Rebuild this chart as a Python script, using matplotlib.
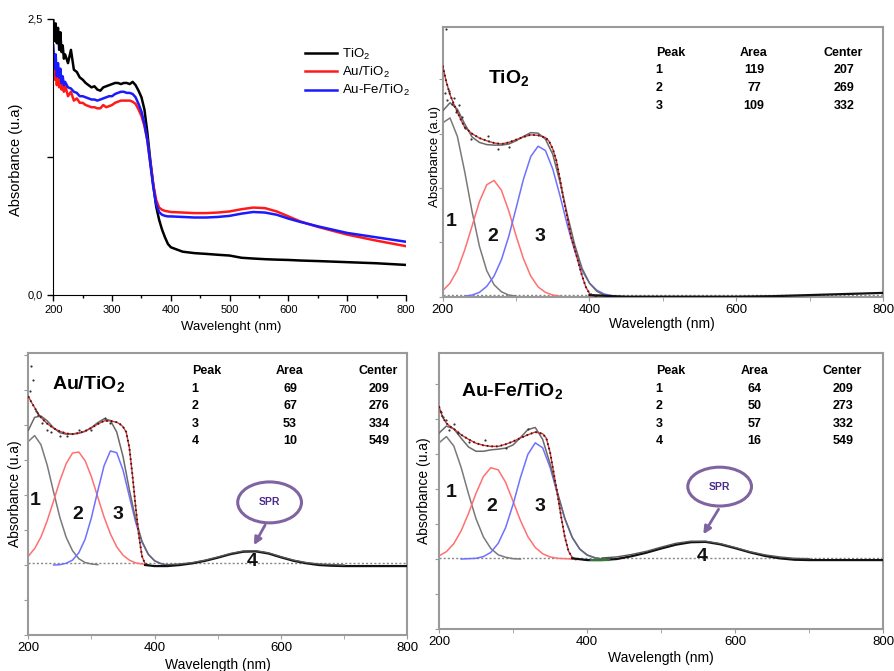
import numpy as np
import matplotlib
matplotlib.use("Agg")
import matplotlib.pyplot as plt
from matplotlib.patches import Ellipse
from matplotlib.ticker import MultipleLocator, FixedLocator, NullFormatter

plt.rcParams['font.family'] = ['Liberation Sans', 'DejaVu Sans']
plt.rcParams['mathtext.default'] = 'regular'

# ---------------- Panel 1 data (UV-Vis spectra) ----------------
wl_spec = [200, 202, 204, 206, 208, 210, 212, 214, 216, 218, 220, 225, 230, 235, 240, 245, 250, 255,
           260, 265, 270, 275, 280, 285, 290, 295, 300, 305, 310, 315, 320, 325, 330, 335, 340, 345,
           350, 355, 360, 365, 370, 375, 380, 385, 390, 395, 400, 420, 440, 460, 480, 500, 520, 540,
           560, 580, 600, 620, 650, 700, 750, 800]
abs_tio2 = [2.50, 2.30, 2.46, 2.28, 2.42, 2.22, 2.38, 2.20, 2.26, 2.14, 2.18, 2.10, 2.22, 2.04, 2.02, 1.97,
            1.95, 1.92, 1.90, 1.88, 1.89, 1.86, 1.85, 1.88, 1.89, 1.90, 1.91, 1.92, 1.92, 1.91, 1.92, 1.92,
            1.91, 1.93, 1.90, 1.85, 1.79, 1.68, 1.47, 1.22, 1.00, 0.80, 0.68, 0.59, 0.52, 0.46, 0.43, 0.39,
            0.377, 0.37, 0.362, 0.355, 0.335, 0.328, 0.322, 0.318, 0.315, 0.31, 0.305, 0.295, 0.285, 0.27]
abs_au = [2.20, 1.95, 2.10, 1.90, 2.05, 1.88, 2.02, 1.86, 1.95, 1.84, 1.90, 1.80, 1.84, 1.76, 1.78, 1.74,
          1.74, 1.72, 1.71, 1.70, 1.70, 1.69, 1.69, 1.72, 1.70, 1.71, 1.72, 1.74, 1.75, 1.76, 1.76, 1.76,
          1.76, 1.75, 1.73, 1.68, 1.62, 1.53, 1.40, 1.20, 1.00, 0.86, 0.79, 0.77, 0.76, 0.755, 0.75, 0.745,
          0.74, 0.74, 0.745, 0.755, 0.775, 0.79, 0.785, 0.755, 0.71, 0.665, 0.615, 0.545, 0.49, 0.44]
abs_aufe = [2.26, 2.05, 2.18, 1.98, 2.10, 1.97, 2.05, 1.92, 1.98, 1.90, 1.93, 1.88, 1.87, 1.84, 1.83, 1.80,
            1.80, 1.79, 1.78, 1.77, 1.77, 1.76, 1.77, 1.78, 1.79, 1.80, 1.80, 1.82, 1.83, 1.84, 1.84, 1.83,
            1.83, 1.82, 1.79, 1.73, 1.66, 1.55, 1.40, 1.19, 0.98, 0.82, 0.75, 0.725, 0.715, 0.71, 0.71, 0.705,
            0.70, 0.70, 0.705, 0.715, 0.735, 0.75, 0.745, 0.725, 0.69, 0.66, 0.62, 0.56, 0.52, 0.48]
series_labels = ['TiO$_2$', 'Au/TiO$_2$', 'Au-Fe/TiO$_2$']
y_ticks_p1 = [0.0, 1.25, 2.5]
y_ticklabels_p1 = ['0,0', '', '2,5']

# ---------------- Deconvolution panels ----------------
nan = np.nan
wl_uv = [200, 210, 220, 230, 240, 250, 260, 270, 280, 290, 300, 310, 320, 330, 340, 350, 360, 370,
         380, 390, 400, 410, 420, 430]
wl_vis = [420, 440, 460, 480, 500, 520, 540, 560, 580, 600, 620, 640, 660, 680, 700]

# TiO2
t_peak1 = [3.20, 3.29, 2.95, 2.30, 1.57, 0.93, 0.48, 0.22, 0.09, 0.03, 0.01, nan, nan, nan, nan, nan, nan,
           nan, nan, nan, nan, nan, nan, nan]
t_peak2 = [0.11, 0.25, 0.49, 0.86, 1.30, 1.75, 2.06, 2.14, 1.96, 1.58, 1.12, 0.70, 0.38, 0.18, 0.08, 0.03,
           0.01, nan, nan, nan, nan, nan, nan, nan]
t_peak3 = [nan, nan, nan, 0.01, 0.03, 0.08, 0.19, 0.38, 0.68, 1.11, 1.63, 2.16, 2.58, 2.77, 2.69, 2.35,
           1.85, 1.31, 0.84, 0.48, 0.25, 0.12, 0.05, 0.02]
t_fit = [3.42, 3.57, 3.45, 3.18, 2.94, 2.84, 2.80, 2.79, 2.79, 2.81, 2.87, 2.95, 3.02, 3.01, 2.90, 2.62,
         2.10, 1.50, 0.95, 0.52, 0.25, 0.10, 0.03, 0.0]
t_wl_data = [200, 205, 210, 215, 220, 225, 230, 240, 250, 260, 270, 280, 290, 300, 310, 320, 330, 340,
             345, 350, 355, 360, 365, 370, 375, 380, 385, 390, 395, 400, 405, 410]
t_data = [4.25, 3.95, 3.72, 3.55, 3.40, 3.25, 3.12, 3.00, 2.92, 2.87, 2.83, 2.81, 2.84, 2.89, 2.94, 2.98,
          2.97, 2.93, 2.86, 2.72, 2.50, 2.15, 1.78, 1.45, 1.10, 0.88, 0.62, 0.38, 0.18, 0.06, 0.02, 0.0]
t_wl_tail = [400, 450, 500, 550, 600, 650, 700, 750, 800]
t_tail = [0.03, 0.0, 0.0, 0.0, 0.0, 0.01, 0.03, 0.05, 0.07]
t_wl_out = [203, 206, 209, 212, 215, 218, 222, 226, 230, 238, 262, 275, 290, 205]
t_out = [3.75, 3.62, 3.78, 3.55, 3.66, 3.40, 3.52, 3.30, 3.10, 2.90, 2.95, 2.72, 2.76, 4.93]

# Au/TiO2
a_peak1 = [3.53, 3.70, 3.44, 2.85, 2.09, 1.36, 0.79, 0.41, 0.18, 0.07, 0.03, 0.01, nan, nan, nan, nan,
           nan, nan, nan, nan, nan, nan, nan, nan]
a_peak2 = [0.25, 0.47, 0.80, 1.27, 1.83, 2.41, 2.90, 3.20, 3.23, 2.98, 2.52, 1.94, 1.37, 0.89, 0.52, 0.28,
           0.14, 0.06, 0.03, 0.01, nan, nan, nan, nan]
a_peak3 = [nan, nan, nan, nan, 0.0, 0.01, 0.05, 0.14, 0.35, 0.74, 1.36, 2.12, 2.84, 3.26, 3.21, 2.71,
           1.96, 1.22, 0.65, 0.30, 0.12, 0.04, 0.0, nan]
a_fit = [3.85, 4.22, 4.26, 4.12, 3.92, 3.78, 3.74, 3.75, 3.77, 3.82, 3.93, 4.07, 4.18, 4.13, 3.80, 3.10,
         2.15, 1.30, 0.68, 0.31, 0.12, 0.04, 0.0, 0.0]
a_peak4 = [0.01, 0.03, 0.07, 0.14, 0.23, 0.33, 0.40, 0.41, 0.35, 0.24, 0.14, 0.07, 0.03, 0.01, 0.0]
a_wl_data = [200, 205, 210, 215, 220, 230, 240, 250, 260, 270, 280, 290, 300, 310, 320, 330, 340, 345,
             350, 355, 360, 365, 370, 375, 380, 385, 390]
a_data = [4.82, 4.65, 4.50, 4.34, 4.22, 4.04, 3.91, 3.82, 3.76, 3.74, 3.77, 3.83, 3.92, 4.03, 4.12, 4.12,
          4.08, 4.03, 3.95, 3.80, 3.35, 2.55, 1.65, 0.85, 0.25, 0.03, 0.0]
a_wl_tail = [385, 400, 420, 440, 460, 480, 500, 520, 540, 560, 580, 600, 620, 640, 660, 680, 700, 750, 800]
a_tail = [0.0, -0.03, -0.03, 0.0, 0.05, 0.12, 0.21, 0.31, 0.38, 0.39, 0.33, 0.22, 0.12, 0.05, 0.0, -0.02,
          -0.03, -0.03, -0.03]
a_wl_out = [205, 208, 203, 212, 216, 222, 230, 236, 250, 262, 280, 300, 322, 330]
a_out = [5.68, 5.30, 4.96, 4.40, 4.30, 4.05, 3.85, 3.80, 3.70, 3.68, 3.85, 3.85, 4.20, 4.05]

# Au-Fe/TiO2
f_peak1 = [3.32, 3.50, 3.23, 2.61, 1.85, 1.15, 0.63, 0.30, 0.12, 0.05, 0.01, 0.0, nan, nan, nan, nan,
           nan, nan, nan, nan, nan, nan, nan, nan]
f_peak2 = [0.09, 0.21, 0.44, 0.81, 1.31, 1.88, 2.36, 2.61, 2.55, 2.19, 1.65, 1.10, 0.64, 0.33, 0.15, 0.06,
           0.02, 0.01, 0.0, nan, nan, nan, nan, nan]
f_peak3 = [nan, nan, nan, 0.0, 0.01, 0.02, 0.07, 0.19, 0.45, 0.90, 1.56, 2.33, 2.99, 3.32, 3.18, 2.62,
           1.86, 1.14, 0.61, 0.28, 0.11, 0.04, 0.0, nan]
f_fit = [3.60, 3.80, 3.72, 3.45, 3.20, 3.08, 3.08, 3.12, 3.14, 3.17, 3.26, 3.47, 3.70, 3.76, 3.42, 2.72,
         1.90, 1.16, 0.62, 0.29, 0.12, 0.04, 0.0, 0.0]
f_peak4 = [0.03, 0.06, 0.13, 0.22, 0.34, 0.45, 0.51, 0.51, 0.44, 0.33, 0.21, 0.12, 0.06, 0.02, 0.01]
f_wl_data = [200, 205, 210, 215, 220, 230, 240, 250, 260, 270, 280, 290, 300, 310, 320, 330, 340, 345,
             350, 355, 360, 365, 370, 375, 380, 385]
f_data = [4.36, 4.05, 3.88, 3.79, 3.72, 3.55, 3.42, 3.31, 3.25, 3.22, 3.22, 3.28, 3.36, 3.46, 3.55, 3.63,
          3.58, 3.45, 3.05, 2.45, 1.85, 1.20, 0.62, 0.22, 0.04, -0.02]
f_wl_tail = [380, 400, 420, 440, 460, 480, 500, 520, 540, 560, 580, 600, 620, 640, 660, 680, 700, 750, 800]
f_tail = [0.02, -0.03, -0.03, 0.0, 0.08, 0.18, 0.30, 0.41, 0.48, 0.49, 0.42, 0.31, 0.19, 0.09, 0.02, -0.02,
          -0.03, -0.03, -0.03]
f_wl_green = [405, 430]
f_green = [-0.02, -0.02]
f_wl_out = [203, 206, 210, 214, 220, 226, 240, 262, 290, 320]
f_out = [4.20, 4.05, 3.98, 3.70, 3.85, 3.60, 3.35, 3.40, 3.18, 3.72]

# tables
t_tab = (['1', '2', '3'], ['119', '77', '109'], ['207', '269', '332'])
a_tab = (['1', '2', '3', '4'], ['69', '67', '53', '10'], ['209', '276', '334', '549'])
f_tab = (['1', '2', '3', '4'], ['64', '50', '57', '16'], ['209', '273', '332', '549'])

# ---------------- figure ----------------
W, H = 894, 671
fig = plt.figure(figsize=(W / 100, H / 100), dpi=100)


def px_axes(l, r, t, b):
    return fig.add_axes([l / W, 1 - b / H, (r - l) / W, (b - t) / H])


def ftxt(x, y, s, **kw):
    fig.text(x / W, 1 - y / H, s, **kw)


# Panel 1
ax1 = px_axes(53.3, 406, 19, 294.7)
ax1.plot(wl_spec, abs_tio2, color='black', lw=1.8, label=series_labels[0])
ax1.plot(wl_spec, abs_au, color='#ff1a1a', lw=1.8, label=series_labels[1])
ax1.plot(wl_spec, abs_aufe, color='#1a1aff', lw=1.8, label=series_labels[2])
ax1.set_xlim(200, 800)
ax1.set_ylim(0, 2.5)
for s in ['top', 'right']:
    ax1.spines[s].set_visible(False)
ax1.xaxis.set_major_locator(MultipleLocator(100))
ax1.xaxis.set_minor_locator(MultipleLocator(50))
ax1.yaxis.set_major_locator(FixedLocator(y_ticks_p1))
ax1.set_yticklabels(y_ticklabels_p1)
ax1.tick_params(which='both', direction='out', labelsize=8, length=4, width=1)
ax1.tick_params(which='minor', length=2.5)
ax1.set_xlabel('Wavelenght (nm)', fontsize=9.5)
ax1.set_ylabel('Absorbance (u.a)', fontsize=10.5)
ax1.xaxis.set_label_coords(0.504, -0.095)
ax1.yaxis.set_label_coords(-0.085, 0.49)
ax1.legend(loc='upper left', bbox_to_anchor=(0.715, 0.90), frameon=False, fontsize=9.5,
           handlelength=2.4, handletextpad=0.35, labelspacing=0.25, borderpad=0, borderaxespad=0)

GRAY = '#7a7a7a'
RED = '#ff7070'
BLUE = '#7070ff'
SPINE = '#9a9a9a'


def style_box(ax, ymin, ymax):
    ax.set_xlim(200, 800)
    ax.set_ylim(ymin, ymax)
    for s in ax.spines.values():
        s.set_color(SPINE)
        s.set_linewidth(1.5)
    ax.xaxis.set_major_locator(MultipleLocator(200))
    ax.xaxis.set_minor_locator(MultipleLocator(100))
    ax.yaxis.set_major_locator(MultipleLocator(1))
    ax.yaxis.set_major_formatter(NullFormatter())
    ax.tick_params(which='both', direction='out', length=3, color=SPINE, labelsize=9.5, pad=2)
    ax.tick_params(which='minor', length=3)
    ax.set_xlabel('Wavelength (nm)', fontsize=10)


def draw_uv(ax, p1, p2, p3, fit, wld, dat, wlt, tail, wlo, out, base):
    ax.axhline(base, color='#888888', lw=1.0, ls=(0, (1.5, 1.5)), zorder=1)
    ax.plot(wl_uv, p1, color=GRAY, lw=1.1, zorder=2)
    ax.plot(wl_uv, p2, color=RED, lw=1.1, zorder=2)
    ax.plot(wl_uv, p3, color=BLUE, lw=1.1, zorder=2)
    ax.plot(wl_uv, fit, color='#6a6a6a', lw=1.1, zorder=3)
    ax.plot(wld, dat, color='#e03030', lw=1.0, zorder=4)
    ax.plot(wld, dat, color='#222222', lw=1.4, ls=(0, (0.8, 1.6)), zorder=5)
    ax.plot(wlt, tail, color='#111111', lw=1.6, zorder=4)
    ax.scatter(wlo, out, s=2.5, color='#333333', zorder=5, linewidths=0)


def draw_spr(ax, wl4, p4, center, size, arrow_from, arrow_to):
    ax.plot(wl4, p4, color='#555555', lw=1.0, zorder=4)
    ax.add_patch(Ellipse(center, size[0], size[1], fill=False, edgecolor='#8064a2', lw=2.2, zorder=6))
    ax.text(center[0], center[1], 'SPR', ha='center', va='center', fontsize=7.5, fontweight='bold',
            color='#4b2c8c', zorder=7)
    ax.annotate('', xy=arrow_to, xytext=arrow_from,
                arrowprops=dict(arrowstyle='-|>', color='#8064a2', lw=2.0, mutation_scale=11), zorder=6)


def peak_labels(ax, pos, labels):
    for (x, y), s in zip(pos, labels):
        ax.text(x, y, s, ha='center', va='center', fontsize=14, fontweight='bold', color='#111111', zorder=8)


def table(x_peak, x_area, x_center, y0, dy, tab):
    ftxt(x_peak, y0, 'Peak', ha='left', va='center', fontsize=9, fontweight='bold')
    ftxt(x_area, y0, 'Area', ha='center', va='center', fontsize=9, fontweight='bold')
    ftxt(x_center, y0, 'Center', ha='center', va='center', fontsize=9, fontweight='bold')
    for i, (p, a, c) in enumerate(zip(*tab)):
        y = y0 + dy * (i + 1)
        ftxt(x_peak, y, p, ha='left', va='center', fontsize=9, fontweight='bold')
        ftxt(x_area, y, a, ha='center', va='center', fontsize=9, fontweight='bold')
        ftxt(x_center + 1, y, c, ha='center', va='center', fontsize=9, fontweight='bold')


# Panel 2 : TiO2
ax2 = px_axes(442.7, 883, 26.7, 296.7)
style_box(ax2, 0, 4.97)
draw_uv(ax2, t_peak1, t_peak2, t_peak3, t_fit, t_wl_data, t_data, t_wl_tail, t_tail, t_wl_out, t_out, 0.04)
ax2.set_ylabel('Absorbance (a.u)', fontsize=9.5)
ax2.yaxis.set_label_coords(-0.004, 0.52)
ax2.xaxis.set_label_coords(0.498, -0.075)
peak_labels(ax2, [(211, 1.38), (268, 1.10), (333, 1.10)], ['1', '2', '3'])
ax2.text(290, 4.02, 'TiO$_2$', ha='center', va='center', fontsize=14, fontweight='bold')
table(655.7, 754, 843, 52.7, 17.7, t_tab)

# Panel 3 : Au/TiO2
ax3 = px_axes(28.3, 407.3, 353, 635)
style_box(ax3, -2.0, 6.06)
draw_uv(ax3, a_peak1, a_peak2, a_peak3, a_fit, a_wl_data, a_data, a_wl_tail, a_tail, a_wl_out, a_out, 0.07)
draw_spr(ax3, wl_vis, a_peak4, (582, 1.79), (101, 1.17), (577, 1.21), (555, 0.50))
ax3.set_ylabel('Absorbance (u.a)', fontsize=10)
ax3.yaxis.set_label_coords(-0.016, 0.50)
ax3.xaxis.set_label_coords(0.50, -0.08)
peak_labels(ax3, [(211, 1.84), (278, 1.44), (342, 1.44), (555, 0.10)], ['1', '2', '3', '4'])
ftxt(89, 384, 'Au/TiO$_2$', ha='center', va='center', fontsize=14, fontweight='bold')
table(191.7, 290, 378.3, 371, 17.6, a_tab)

# Panel 4 : Au-Fe/TiO2
ax4 = px_axes(439, 883.3, 353.3, 629)
style_box(ax4, -2.0, 5.88)
draw_uv(ax4, f_peak1, f_peak2, f_peak3, f_fit, f_wl_data, f_data, f_wl_tail, f_tail, f_wl_out, f_out, 0.03)
ax4.plot(f_wl_green, f_green, color='#2e7d32', lw=1.6, zorder=5)
draw_spr(ax4, wl_vis, f_peak4, (579, 2.07), (86, 1.11), (579.5, 1.49), (555, 0.64))
ax4.set_ylabel('Absorbance (u.a)', fontsize=10)
ax4.yaxis.set_label_coords(-0.018, 0.50)
ax4.xaxis.set_label_coords(0.50, -0.08)
peak_labels(ax4, [(216, 1.91), (271, 1.49), (336, 1.49), (555, 0.07)], ['1', '2', '3', '4'])
ftxt(511.7, 391, 'Au-Fe/TiO$_2$', ha='center', va='center', fontsize=14, fontweight='bold')
table(655.7, 754.3, 842.3, 371, 17.6, f_tab)

fig.savefig('out.png', dpi=100)
